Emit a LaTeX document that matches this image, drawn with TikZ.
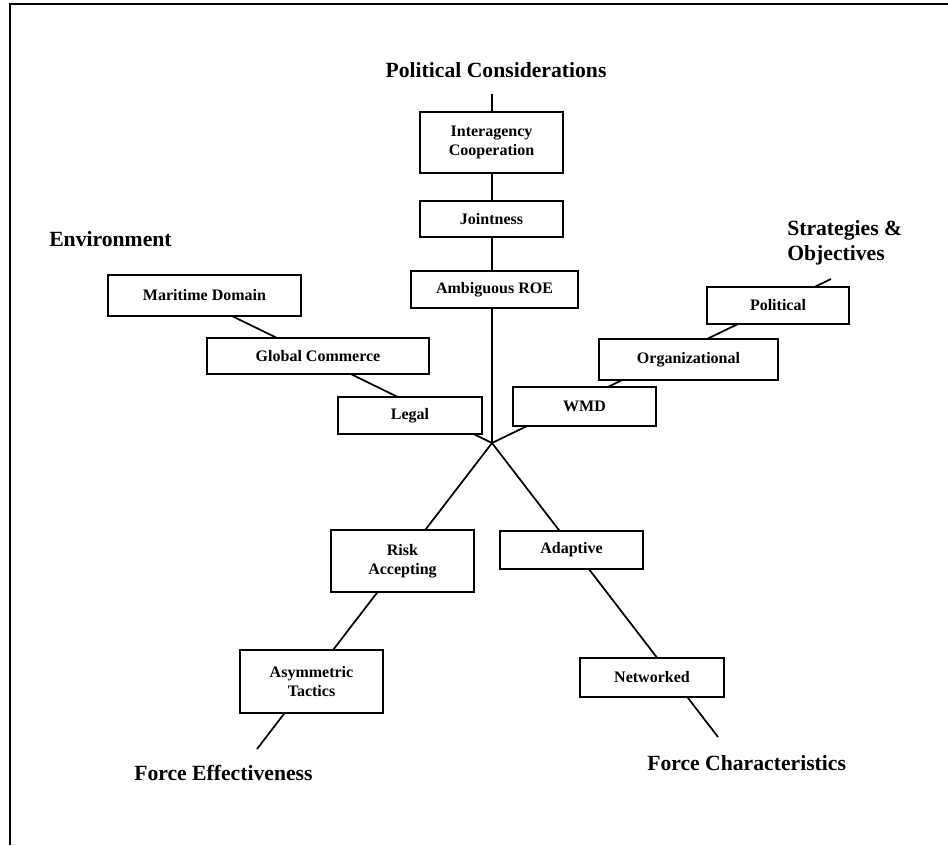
\documentclass[tikz,border=0pt]{standalone}
\usepackage{fontspec}
\setmainfont{Liberation Serif}
\begin{document}
\begin{tikzpicture}[x=0.75pt,y=-0.75pt,
  box/.style={draw,line width=1.5pt,fill=white,inner sep=0pt,align=center,
    font=\fontsize{12}{14.25}\selectfont\bfseries},
  sz/.style 2 args={minimum width=#1*0.75pt,minimum height=#2*0.75pt},
  spoke/.style={line width=1.3pt},
  head/.style={inner sep=0pt,align=left,font=\fontsize{16.25}{18.75}\selectfont\bfseries}]
\useasboundingbox (0,0) rectangle (948,845);
\draw[line width=1.5pt] (10,845) -- (10,4) -- (948,4);
% spoke end points
\coordinate (J) at (492,443);
\coordinate (eTop) at (492,94);
\coordinate (eEnv) at (232,316);
\coordinate (eStr) at (831,279);
\coordinate (eEff) at (257,749);
\coordinate (eChr) at (718,737);
\draw[spoke] (J) -- (eTop);
\draw[spoke] (J) -- (eEnv);
\draw[spoke] (J) -- (eStr);
\draw[spoke] (J) -- (eEff);
\draw[spoke] (J) -- (eChr);
% boxes
\node[box,sz={143}{61}] (inter) at (491.5,142.5) {Interagency\\Cooperation};
\node[box,sz={143}{36}] (joint) at (491.5,219) {Jointness};
\node[box,sz={167}{37}] (roe) at (494.5,289.5) {Ambiguous ROE};
\node[box,sz={193}{41}] (mar) at (204.5,295.5) {Maritime Domain};
\node[box,sz={222}{36}] (glob) at (318,356) {Global Commerce};
\node[box,sz={144}{37}] (legal) at (410,415.5) {Legal};
\node[box,sz={142}{37}] (pol) at (778,305.5) {Political};
\node[box,sz={179}{41}] (org) at (688.5,359.5) {Organizational};
\node[box,sz={143}{39}] (wmd) at (584.5,406.5) {WMD};
\node[box,sz={143}{62}] (risk) at (402.5,561) {Risk\\Accepting};
\node[box,sz={143}{38}] (adapt) at (571.5,550) {Adaptive};
\node[box,sz={143}{63}] (asym) at (311.5,681.5) {Asymmetric\\Tactics};
\node[box,sz={144}{39}] (net) at (652,677.5) {Networked};
% headings
\node[head,anchor=base] (hPol) at (496,78) {Political Considerations};
\node[head,anchor=base west] (hEnv) at (49,246) {Environment};
\node[head,anchor=base west] (hStr) at (787,260) {Strategies \&\\Objectives};
\node[head,anchor=base west] (hEff) at (134,780) {Force Effectiveness};
\node[head,anchor=base west] (hChr) at (647,770) {Force Characteristics};
\end{tikzpicture}
\end{document}
